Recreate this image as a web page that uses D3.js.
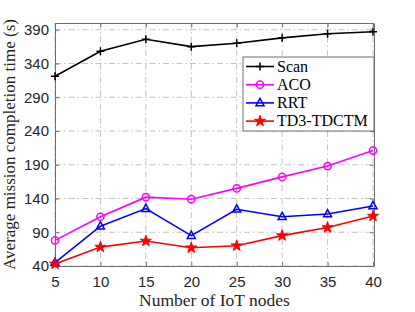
<!DOCTYPE html>
<html>
<head>
<meta charset="utf-8">
<style>
  body { margin: 0; background: #fff; }
  svg { display: block; }
</style>
<script src="https://cdn.jsdelivr.net/npm/d3@7"></script>
</head>
<body>
<script>
    // data
    var nodes = [5, 10, 15, 20, 25, 30, 35, 40];
    var scan = [321, 358, 376, 365, 370, 378, 384, 387];
    var aco = [78, 113, 142, 139, 155, 172, 188, 211];
    var rrt = [45, 99, 125, 85, 124, 113, 117, 129];
    var td3 = [43, 68, 77, 67, 70, 85, 97, 114];
    var yTicks = [40, 90, 140, 190, 240, 290, 340, 390];
    var seriesNames = ["Scan", "ACO", "RRT", "TD3-TDCTM"];

    var W = 415, H = 312;
    var margin = {top: 23, right: 41, bottom: 46, left: 55},
        width = W - margin.left - margin.right,
        height = H - margin.top - margin.bottom;

    var svg = d3.select("body").append("svg")
        .attr("width", W)
        .attr("height", H);

    var g = svg.append("g")
        .attr("transform", "translate(" + margin.left + "," + margin.top + ")");

    var x = d3.scaleLinear().domain([5, 40]).range([0, width - 1]);
    var y = d3.scaleLinear().domain([40, 400]).range([height, 0]);

    // grid
    var gridColor = "#b4b4b4";
    g.append("g").selectAll("line").data(nodes).enter().append("line")
        .attr("x1", function (d) { return x(d); })
        .attr("x2", function (d) { return x(d); })
        .attr("y1", 0).attr("y2", height)
        .attr("stroke", gridColor).attr("stroke-width", 0.8)
        .attr("stroke-dasharray", "6,3,1.5,3");
    g.append("g").selectAll("line").data(yTicks).enter().append("line")
        .attr("x1", 0).attr("x2", width)
        .attr("y1", function (d) { return y(d); })
        .attr("y2", function (d) { return y(d); })
        .attr("stroke", gridColor).attr("stroke-width", 0.8)
        .attr("stroke-dasharray", "6,3,1.5,3");

    // axes (box with inward ticks)
    var axisColor = "#6e6e6e";
    var xb = g.append("g").attr("transform", "translate(0," + height + ")")
        .call(d3.axisBottom(x).tickValues(nodes).tickSizeInner(-4).tickSizeOuter(0).tickPadding(10));
    var xt = g.append("g")
        .call(d3.axisTop(x).tickValues(nodes).tickSizeInner(-4).tickSizeOuter(0).tickFormat(""));
    var yl = g.append("g")
        .call(d3.axisLeft(y).tickValues(yTicks).tickSizeInner(-4).tickSizeOuter(0).tickPadding(6));
    var yr = g.append("g").attr("transform", "translate(" + width + ",0)")
        .call(d3.axisRight(y).tickValues(yTicks).tickSizeInner(-4).tickSizeOuter(0).tickFormat(""));

    [xb, xt, yl, yr].forEach(function (a) {
        a.select(".domain").attr("stroke", axisColor).attr("stroke-width", 1);
        a.selectAll(".tick line").attr("stroke", axisColor);
        a.selectAll("text")
            .attr("font-family", "'Liberation Sans', Arial, sans-serif")
            .attr("font-size", "15px")
            .attr("fill", "#262626");
    });

    var line = d3.line()
        .x(function (d, i) { return x(nodes[i]); })
        .y(function (d) { return y(d); });

    var colors = ["#000000", "#ff00ff", "#0000ff", "#ff0000"];
    var allSeries = [scan, aco, rrt, td3];

    function drawMarker(sel, k, c) {
        if (k === 0) {
            sel.append("path").attr("d", "M-4,0H4M0,-4V4")
                .attr("stroke", c).attr("stroke-width", 1.5).attr("fill", "none");
        } else if (k === 1) {
            sel.append("circle").attr("r", 3.6)
                .attr("stroke", c).attr("stroke-width", 1.5).attr("fill", "none");
        } else if (k === 2) {
            sel.append("path").attr("d", "M0,-4.5L4,2.8L-4,2.8Z")
                .attr("stroke", c).attr("stroke-width", 1.5).attr("fill", "none");
        } else {
            sel.append("path").attr("d", d3.symbol().type(d3.symbolStar).size(38)())
                .attr("stroke", c).attr("stroke-width", 1).attr("fill", c);
        }
    }

    allSeries.forEach(function (s, k) {
        g.append("path").datum(s)
            .attr("fill", "none")
            .attr("stroke", colors[k])
            .attr("stroke-width", 1.6)
            .attr("d", line);
        g.append("g").selectAll("g").data(s).enter().append("g")
            .attr("transform", function (d, i) { return "translate(" + x(nodes[i]) + "," + y(d) + ")"; })
            .each(function () { drawMarker(d3.select(this), k, colors[k]); });
    });

    // legend
    var leg = svg.append("g").attr("transform", "translate(243,57)");
    leg.append("rect").attr("width", 131).attr("height", 74)
        .attr("fill", "#fff").attr("stroke", "#6e6e6e").attr("stroke-width", 1);
    seriesNames.forEach(function (n, k) {
        var ly = 9.5 + k * 18.2;
        leg.append("line").attr("x1", 3).attr("x2", 31)
            .attr("y1", ly).attr("y2", ly)
            .attr("stroke", colors[k]).attr("stroke-width", 1.6);
        var m = leg.append("g").attr("transform", "translate(17," + ly + ")");
        drawMarker(m, k, colors[k]);
        leg.append("text").attr("x", 34).attr("y", ly + 5)
            .attr("font-family", "'Liberation Serif', 'Times New Roman', serif")
            .attr("font-size", "16px")
            .attr("fill", "#000")
            .text(n);
    });

    // axis titles
    svg.append("text")
        .attr("x", margin.left + width / 2).attr("y", 306)
        .attr("text-anchor", "middle")
        .attr("font-family", "'Liberation Serif', 'Times New Roman', serif")
        .attr("font-size", "17.5px")
        .attr("fill", "#262626")
        .text("Number of IoT nodes");

    svg.append("text")
        .attr("transform", "translate(15," + (margin.top + height / 2) + ") rotate(-90)")
        .attr("text-anchor", "middle")
        .attr("font-family", "'Liberation Serif', 'Times New Roman', serif")
        .attr("font-size", "17px")
        .attr("fill", "#262626")
        .text("Average mission completion time (s)");
</script>
</body>
</html>
